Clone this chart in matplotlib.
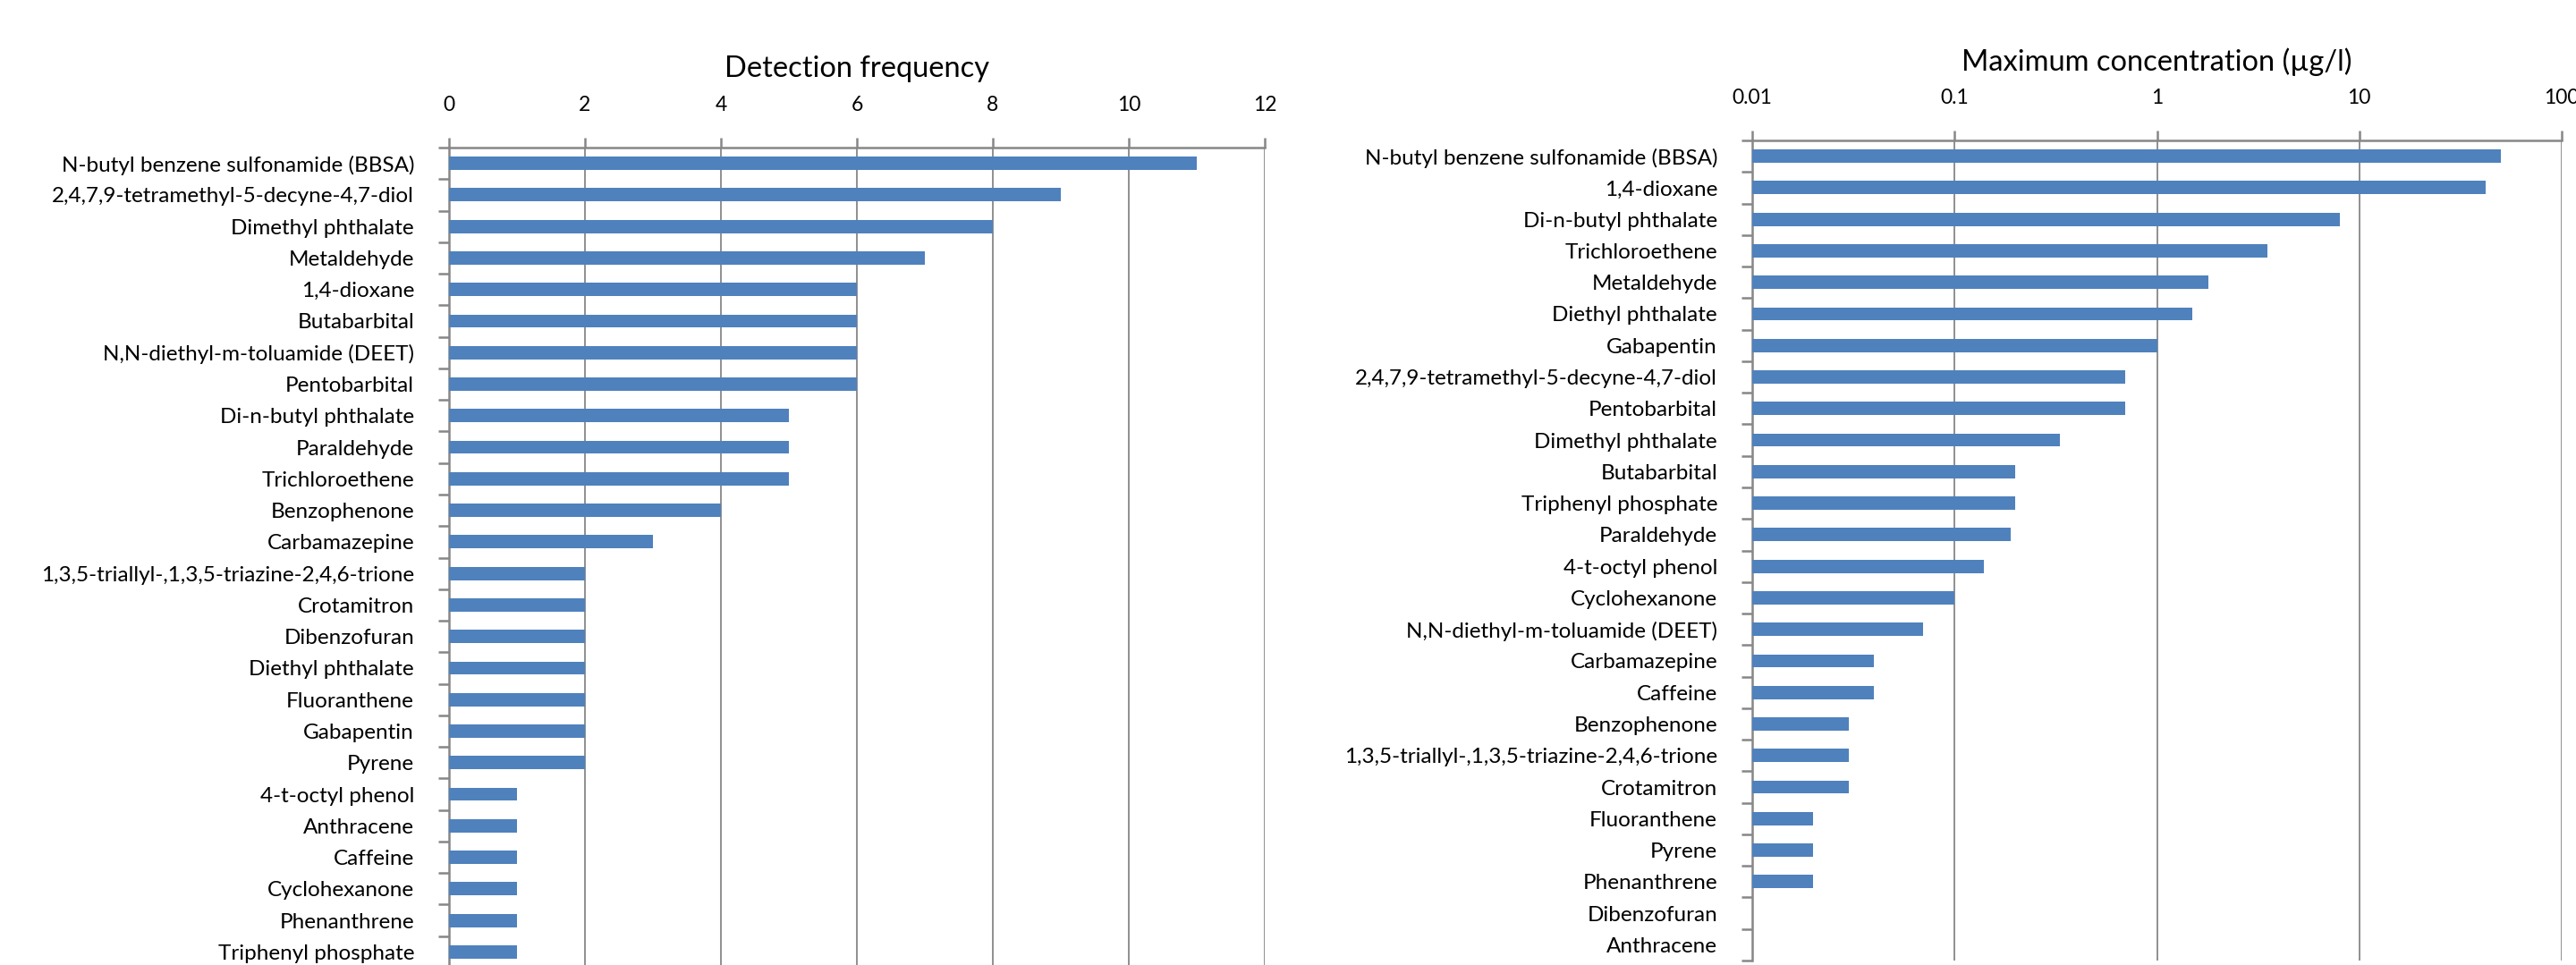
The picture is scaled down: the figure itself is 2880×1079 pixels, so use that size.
import numpy as np
import matplotlib
matplotlib.use("Agg")
import matplotlib.pyplot as plt
from matplotlib.ticker import FixedLocator, NullLocator

plt.rcParams['font.family'] = ['Lato', 'DejaVu Sans']

# detection frequency (number of samples with a detect)
freq_names = [
    "N-butyl benzene sulfonamide (BBSA)", "2,4,7,9-tetramethyl-5-decyne-4,7-diol",
    "Dimethyl phthalate", "Metaldehyde", "1,4-dioxane", "Butabarbital",
    "N,N-diethyl-m-toluamide (DEET)", "Pentobarbital", "Di-n-butyl phthalate",
    "Paraldehyde", "Trichloroethene", "Benzophenone", "Carbamazepine",
    "1,3,5-triallyl-,1,3,5-triazine-2,4,6-trione", "Crotamitron", "Dibenzofuran",
    "Diethyl phthalate", "Fluoranthene", "Gabapentin", "Pyrene",
    "4-t-octyl phenol", "Anthracene", "Caffeine", "Cyclohexanone",
    "Phenanthrene", "Triphenyl phosphate",
]
freq_vals = [11, 9, 8, 7, 6, 6, 6, 6, 5, 5, 5, 4, 3, 2, 2, 2, 2, 2, 2, 2,
             1, 1, 1, 1, 1, 1]

# maximum concentration in ug/l
conc_names = [
    "N-butyl benzene sulfonamide (BBSA)", "1,4-dioxane", "Di-n-butyl phthalate",
    "Trichloroethene", "Metaldehyde", "Diethyl phthalate", "Gabapentin",
    "2,4,7,9-tetramethyl-5-decyne-4,7-diol", "Pentobarbital", "Dimethyl phthalate",
    "Butabarbital", "Triphenyl phosphate", "Paraldehyde", "4-t-octyl phenol",
    "Cyclohexanone", "N,N-diethyl-m-toluamide (DEET)", "Carbamazepine", "Caffeine",
    "Benzophenone", "1,3,5-triallyl-,1,3,5-triazine-2,4,6-trione", "Crotamitron",
    "Fluoranthene", "Pyrene", "Phenanthrene", "Dibenzofuran", "Anthracene",
]
conc_vals = [50, 42, 8.0, 3.5, 1.8, 1.5, 1.0, 0.7, 0.7, 0.33, 0.2, 0.2, 0.19,
             0.14, 0.1, 0.07, 0.04, 0.04, 0.03, 0.03, 0.03, 0.02, 0.02, 0.02,
             0.01, 0.01]

freq_ticks = [0, 2, 4, 6, 8, 10, 12]
conc_ticks = [0.01, 0.1, 1, 10, 100]
conc_ticklabels = ["0.01", "0.1", "1", "10", "100"]

BAR = "#4f81bd"
GREY = "#878787"
W, H = 2880, 1079

fig = plt.figure(figsize=(W / 100, H / 100), dpi=100)
ax1 = fig.add_axes([502 / W, -3 / H, 912 / W, 917 / H])
ax2 = fig.add_axes([1959 / W, 5 / H, 905 / W, 917 / H])


def style(ax, names, title):
    n = len(names)
    ax.set_ylim(n - 0.5, -0.5)
    ax.set_yticks(np.arange(n))
    ax.set_yticklabels(names)
    ax.yaxis.set_minor_locator(FixedLocator(np.arange(n + 1) - 0.5))
    ax.tick_params(axis="y", which="major", length=0, pad=28, labelsize=17.5)
    ax.tick_params(axis="y", which="minor", length=9, width=1.8, color=GREY)
    ax.xaxis.tick_top()
    ax.xaxis.set_minor_locator(NullLocator())
    ax.tick_params(axis="x", which="major", length=8, width=1.8, color=GREY,
                   pad=19, labelsize=16.5)
    for s in ["right", "bottom"]:
        ax.spines[s].set_visible(False)
    for s in ["left", "top"]:
        ax.spines[s].set_color(GREY)
        ax.spines[s].set_linewidth(1.8)
    ax.grid(axis="x", color=GREY, linewidth=1.3)
    ax.set_axisbelow(True)
    ax.text(0.5, 1 + 88 / 917, title, transform=ax.transAxes,
            ha="center", va="center", fontsize=23.5)


# left: detection frequency
y1 = np.arange(len(freq_names))
ax1.barh(y1, freq_vals, height=0.42, color=BAR, zorder=3)
ax1.set_xlim(0, 12)
ax1.set_xticks(freq_ticks)
style(ax1, freq_names, "Detection frequency")

# right: maximum concentration, log scale starting at 0.01
y2 = np.arange(len(conc_names))
cv = np.array(conc_vals)
ax2.set_xscale("log")
ax2.barh(y2, cv - 0.01, left=0.01, height=0.42, color=BAR, zorder=3,
         linewidth=0)
ax2.set_xlim(0.01, 100)
ax2.set_xticks(conc_ticks)
ax2.set_xticklabels(conc_ticklabels)
style(ax2, conc_names, "Maximum concentration (\u00b5g/l)")

fig.savefig("out.png", dpi=100, facecolor="white")
